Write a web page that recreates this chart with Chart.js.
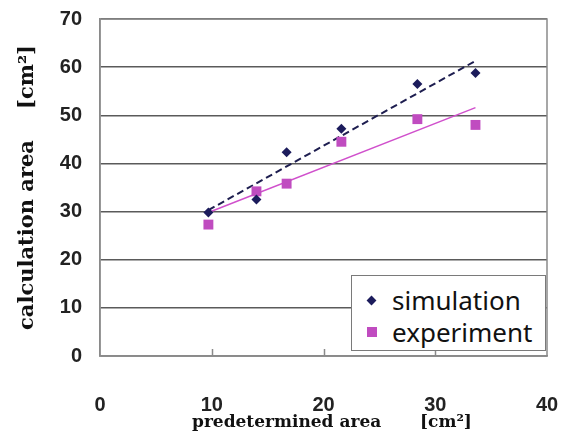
<!DOCTYPE html>
<html>
<head>
<meta charset="utf-8">
<script src="https://cdn.jsdelivr.net/npm/chart.js@4/dist/chart.umd.min.js"></script>
<style>
  html, body { margin: 0; padding: 0; background: #fff; }
  #wrap { position: relative; width: 562px; height: 432px; }
  #legend {
    position: absolute; left: 351px; top: 275px; width: 195px; height: 76px;
    box-sizing: border-box; border: 1.5px solid #7a7a7a; background: #fff;
    font-family: "Noto Sans", sans-serif; font-size: 26px; color: #111;
  }
  .lg-row { position: absolute; left: 40px; height: 32px; line-height: 32px; white-space: nowrap; }
  .lg-mark { position: absolute; }
  .diamond { width: 7px; height: 7px; background: #1c1c5c; transform: rotate(45deg); }
  .square { width: 10px; height: 10px; background: #c04cc0; }
</style>
</head>
<body>
<div id="wrap">
  <canvas id="chart" width="562" height="432"></canvas>
  <div id="legend">
    <span class="lg-mark diamond" style="left:16px;top:21px"></span>
    <span class="lg-row" style="top:8px">simulation</span>
    <span class="lg-mark square" style="left:15px;top:51px"></span>
    <span class="lg-row" style="top:40px">experiment</span>
  </div>
</div>
<script>
// values
const xTicks = [0, 10, 20, 30, 40];
const yTicks = [0, 10, 20, 30, 40, 50, 60, 70];
const predetermined = [9.7, 14.0, 16.7, 21.6, 28.4, 33.6];
const simulation = [29.8, 32.5, 42.3, 47.2, 56.5, 58.8];
const experiment = [27.3, 34.2, 35.8, 44.5, 49.2, 48.0];
// linear trendline ends
const trendX = [9.7, 33.6];
const simTrend = [30.3, 61.3];
const expTrend = [29.8, 51.6];

const pts = (xs, ys) => xs.map((x, i) => ({ x: x, y: ys[i] }));
const tickFont = { family: '"Liberation Sans", Arial, sans-serif', size: 20, weight: 'bold' };
// keep tick labels from pushing the plot area around
const noPad = s => { s.paddingTop = s.paddingBottom = s.paddingLeft = s.paddingRight = 0; };

// frame, inner ticks and axis titles
const decor = {
  id: 'decor',
  afterDraw(chart) {
    const { ctx, chartArea: a, scales } = chart;
    ctx.save();
    ctx.strokeStyle = '#8a8a8a';
    ctx.lineWidth = 1.5;
    ctx.strokeRect(a.left, a.top, a.right - a.left, a.bottom - a.top);
    xTicks.slice(1, -1).forEach(v => {
      const px = Math.round(scales.x.getPixelForValue(v)) + 0.5;
      ctx.beginPath();
      ctx.moveTo(px, a.bottom);
      ctx.lineTo(px, a.bottom - 7);
      ctx.stroke();
    });
    ctx.fillStyle = '#111';
    ctx.font = 'bold 21px "DejaVu Serif", serif';
    ctx.textBaseline = 'middle';
    ctx.textAlign = 'center';
    ctx.translate(28, 0);
    ctx.rotate(-Math.PI / 2);
    ctx.fillText('calculation area', -235, 0);
    ctx.fillText('[cm²]', -77, 0);
    ctx.restore();

    ctx.save();
    ctx.fillStyle = '#111';
    ctx.font = 'bold 17px "DejaVu Serif", serif';
    ctx.textBaseline = 'middle';
    ctx.textAlign = 'left';
    ctx.fillText('predetermined area', 192, 423);
    ctx.fillText('[cm²]', 420, 423);
    ctx.restore();
  }
};

new Chart(document.getElementById('chart'), {
  type: 'scatter',
  data: {
    datasets: [
      {
        label: 'simulation',
        data: pts(predetermined, simulation),
        pointStyle: 'rectRot',
        pointRadius: 5,
        backgroundColor: '#1c1c5c',
        borderColor: '#1c1c5c',
        borderWidth: 0
      },
      {
        label: 'experiment',
        data: pts(predetermined, experiment),
        pointStyle: 'rect',
        pointRadius: 7,
        backgroundColor: '#c04cc0',
        borderColor: '#c04cc0',
        borderWidth: 0
      },
      {
        type: 'line',
        label: 'simulation trend',
        data: pts(trendX, simTrend),
        borderColor: '#1e1e50',
        borderWidth: 2,
        borderDash: [7, 4],
        pointRadius: 0,
        fill: false
      },
      {
        type: 'line',
        label: 'experiment trend',
        data: pts(trendX, expTrend),
        borderColor: '#d050cc',
        borderWidth: 1.5,
        pointRadius: 0,
        fill: false
      }
    ]
  },
  options: {
    responsive: false,
    animation: false,
    events: [],
    layout: { padding: { left: 0, right: 15, top: 19, bottom: 0 } },
    plugins: { legend: { display: false }, tooltip: { enabled: false } },
    scales: {
      x: {
        type: 'linear', min: 0, max: 40,
        afterBuildTicks: s => { s.ticks = xTicks.map(v => ({ value: v })); },
        afterFit: s => { s.height = 76; noPad(s); },
        grid: { drawOnChartArea: false, drawTicks: false },
        border: { color: '#8a8a8a', width: 1.5 },
        ticks: { padding: 37, color: '#222', font: tickFont }
      },
      y: {
        type: 'linear', min: 0, max: 70,
        afterBuildTicks: s => { s.ticks = yTicks.map(v => ({ value: v })); },
        afterFit: s => { s.width = 100; noPad(s); },
        grid: { color: '#5a5a5a', lineWidth: 1.5, drawTicks: false },
        border: { color: '#8a8a8a', width: 1.5 },
        ticks: { padding: 18, color: '#222', font: tickFont }
      }
    }
  },
  plugins: [decor]
});
</script>
</body>
</html>
